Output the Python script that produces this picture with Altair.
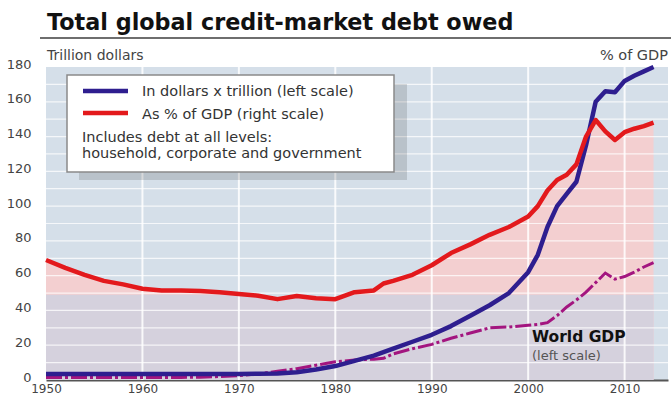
import altair as alt
import pandas as pd

years = [1950, 1952, 1954, 1956, 1958, 1960, 1962, 1964, 1966, 1968, 1970, 1972, 1974,
         1976, 1978, 1980, 1982, 1984, 1985, 1986, 1988, 1990, 1992, 1994, 1996, 1998,
         2000, 2001, 2002, 2003, 2004, 2005, 2006, 2007, 2008, 2009, 2010, 2011, 2012, 2013]
pct_gdp = [69, 64.5, 60.5, 57, 55, 52.5, 51.5, 51.5, 51.2, 50.5, 49.5, 48.5, 46.5,
           48.3, 47, 46.5, 50.5, 51.5, 55.5, 57, 60.5, 66, 73, 78, 83.5, 88,
           94, 100, 109, 115, 118, 124, 140, 149.5, 143, 138, 142.5, 144.5, 146, 148]
debt_trn = [3.5, 3.5, 3.5, 3.5, 3.5, 3.5, 3.5, 3.5, 3.5, 3.5, 3.5, 3.6, 3.8,
            4.5, 6, 8, 11, 14, 16, 18, 22, 26, 31, 37, 43, 50,
            62, 72, 88, 100, 107, 114, 135, 160, 166, 165.5, 172, 175, 177.5, 180]
world_gdp = [1.5, 1.5, 1.5, 1.5, 1.5, 1.5, 1.5, 1.5, 1.6, 2, 2.5, 3.5, 5,
             6.5, 8.5, 10.5, 11.5, 12, 12.5, 15, 18, 20.5, 24, 27, 30, 30.5,
             31.5, 32, 33, 37, 42, 46, 50.5, 56, 61.5, 58, 59.5, 62, 65, 67.5]

band_top = 49
x_ticks = [1950, 1960, 1970, 1980, 1990, 2000, 2010]
y_ticks = [0, 20, 40, 60, 80, 100, 120, 140, 160, 180]
h_grid = [10, 20, 30, 40, 50, 60, 70, 80, 90, 100, 110, 120, 130, 140, 150, 160, 170]
v_grid = [1960, 1970, 1980, 1990, 2000, 2010]

title_text = "Total global credit-market debt owed"
left_unit = "Trillion dollars"
right_unit = "% of GDP"
legend_labels = ["In dollars x trillion (left scale)", "As % of GDP (right scale)"]
note_lines = ["Includes debt at all levels:", "household, corporate and government"]
gdp_label = ["World GDP", "(left scale)"]

FONT = "DejaVu Sans"

df = pd.DataFrame({"year": years, "pct": pct_gdp, "debt": debt_trn, "gdp": world_gdp})
df["band"] = [min(v, band_top) for v in pct_gdp]

xs = alt.Scale(domain=[1950, 2014.5], nice=False)
ys = alt.Scale(domain=[0, 180], nice=False)

x_axis = alt.Axis(values=x_ticks, format="d", grid=False, ticks=False,
                  domain=True, domainColor="#555555", domainWidth=2,
                  labelFontSize=12, labelColor="#444444", labelFont=FONT,
                  labelPadding=3, labelFlush=False, labelOverlap=False, title=None)
y_axis = alt.Axis(values=y_ticks, grid=False, ticks=False, domain=False,
                  labelFontSize=13, labelColor="#444444", labelFont=FONT,
                  labelPadding=15, labelOffset=-3, labelOverlap=False, title=None)

X = alt.X("year:Q", scale=xs, axis=x_axis)


def Y(f):
    return alt.Y(f, scale=ys, axis=y_axis)


base = alt.Chart(df)

pink = base.mark_area(color="#f3cfd0").encode(x=X, y=Y("pct:Q"))
lav = base.mark_area(color="#d5d1dd").encode(x=X, y=Y("band:Q"))

hg = alt.Chart(pd.DataFrame({"v": h_grid})).mark_rule(color="white", strokeWidth=1.2, opacity=0.75).encode(
    y=Y("v:Q"))
vg = alt.Chart(pd.DataFrame({"v": v_grid})).mark_rule(color="white", strokeWidth=2, opacity=0.85).encode(
    x=alt.X("v:Q", scale=xs, axis=x_axis))

gdp_line = base.mark_line(color="#a3157f", strokeWidth=3, strokeDash=[16, 3, 3, 3]).encode(
    x=X, y=Y("gdp:Q"))
debt_line = base.mark_line(color="#2e1e8f", strokeWidth=4.5, strokeJoin="round").encode(
    x=X, y=Y("debt:Q"))
pct_line = base.mark_line(color="#e3191c", strokeWidth=4.5, strokeJoin="round").encode(
    x=X, y=Y("pct:Q"))


def txt(s, x, y, size=12.5, weight="normal", color="#333333", align="left"):
    return alt.Chart(pd.DataFrame({"t": [s]})).mark_text(
        font=FONT, fontSize=size, fontWeight=weight, color=color, align=align, baseline="alphabetic"
    ).encode(text="t:N", x=alt.value(x), y=alt.value(y))


one = pd.DataFrame({"k": [0]})
shadow = alt.Chart(one).mark_rect(color="#000000", opacity=0.13).encode(
    x=alt.value(33), x2=alt.value(361), y=alt.value(17), y2=alt.value(113))
box = alt.Chart(one).mark_rect(color="white", stroke="#8a8a8a", strokeWidth=1.5).encode(
    x=alt.value(21), x2=alt.value(348), y=alt.value(8), y2=alt.value(105))
sw_blue = alt.Chart(one).mark_rule(color="#2e1e8f", strokeWidth=4.5).encode(
    x=alt.value(37), x2=alt.value(82), y=alt.value(24))
sw_red = alt.Chart(one).mark_rule(color="#e3191c", strokeWidth=4.5).encode(
    x=alt.value(37), x2=alt.value(82), y=alt.value(46))
underline = alt.Chart(one).mark_rule(color="#6e6e6e", strokeWidth=2).encode(
    x=alt.value(-6), x2=alt.value(625), y=alt.value(-29))

chart = alt.layer(
    pink, lav, hg, vg, gdp_line, debt_line, pct_line,
    shadow, box, sw_blue, sw_red, underline,
    txt(title_text, 1, -37, size=22.3, weight="bold", color="#111111"),
    txt(left_unit, 1, -7, size=14, color="#444444"),
    txt(right_unit, 622, -7, size=14.5, color="#444444", align="right"),
    txt(legend_labels[0], 96, 29, size=14.5),
    txt(legend_labels[1], 96, 52, size=14.5),
    txt(note_lines[0], 36, 75, size=14.5),
    txt(note_lines[1], 36, 91, size=14.5),
    txt(gdp_label[0], 486, 275, size=15.5, weight="bold", color="#111111"),
    txt(gdp_label[1], 486, 293, size=13, color="#555555"),
).properties(
    width=622, height=313,
    autosize=alt.AutoSizeParams(type="none"),
    padding={"left": 46, "top": 67, "right": 3, "bottom": 17},
    background="white",
).configure_view(fill="#d5dfe9", stroke=None)

chart.save("out.html", embed_options={"renderer": "svg", "actions": False})
